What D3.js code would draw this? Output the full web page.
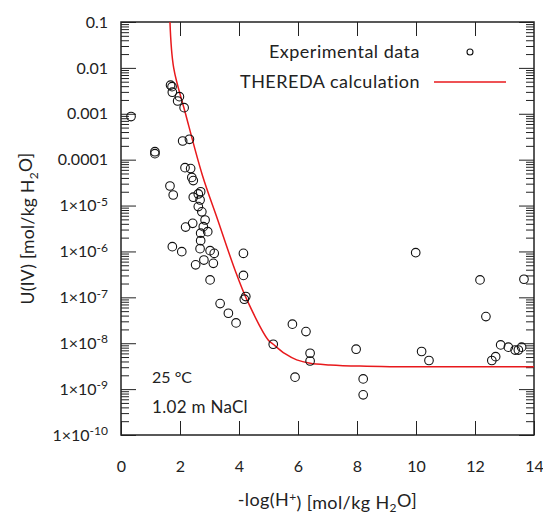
<!DOCTYPE html>
<html>
 <head>
  <meta charset="utf-8" />
  <title>U(IV) solubility</title>
  <style>
   body, html {
    margin: 0;
    padding: 0;
    background: #fff;
   }
   svg text {
    font-family: Lato, "Open Sans", sans-serif;
    fill: #222;
   }
   .frame {
    fill: none;
    stroke: #222;
    stroke-width: 1.5;
   }
   .axis path {
    display: none;
   }
   .axis line {
    stroke: #222;
    stroke-width: 1;
   }
  </style>
  <script src="https://cdnjs.cloudflare.com/ajax/libs/d3/7.9.0/d3.min.js"></script>
 </head>
 <body>
  <svg width="543" height="515"></svg>
  <script>
   // experimental points: -log(H+) and U(IV) concentration
   const expPh = [
    0.34, 1.68, 1.73, 1.74, 1.98, 1.92, 2.14, 2.09, 2.32, 1.15, 1.15,
    2.17, 2.36, 2.40, 2.45, 1.66, 1.77, 2.70, 2.62, 2.45, 2.68, 2.62,
    2.74, 2.85, 2.43, 2.19, 2.79, 2.94, 2.70, 2.70, 1.74, 2.06, 2.68,
    3.02, 3.16, 4.15, 2.81, 2.53, 3.13, 3.02, 4.15, 4.23, 4.18, 3.36,
    3.64, 3.90, 5.16, 5.81, 6.27, 6.41, 6.41, 5.90, 7.97, 8.21, 8.21,
    9.99, 12.17, 13.66, 12.37, 10.19, 10.44, 12.87, 13.13, 13.36, 13.47,
    13.58, 12.70, 12.57
   ];
   const expU = [
    8.7e-4, 4.2e-3, 3.9e-3, 2.95e-3, 2.36e-3, 1.9e-3, 1.36e-3, 2.55e-4, 2.78e-4, 1.49e-4, 1.35e-4,
    6.7e-5, 6.4e-5, 4.1e-5, 3.5e-5, 2.67e-5, 1.7e-5, 2.0e-5, 1.79e-5, 1.52e-5, 1.32e-5, 9.5e-6,
    7.3e-6, 4.85e-6, 4.1e-6, 3.4e-6, 3.47e-6, 2.7e-6, 2.5e-6, 1.72e-6, 1.27e-6, 9.9e-7, 1.15e-6,
    1.04e-6, 9.1e-7, 9.1e-7, 6.5e-7, 5.1e-7, 5.5e-7, 2.4e-7, 3.0e-7, 1.04e-7, 9.1e-8, 7.3e-8,
    4.5e-8, 2.77e-8, 9.5e-9, 2.6e-8, 1.79e-8, 6.05e-9, 4.1e-9, 1.82e-9, 7.4e-9, 1.67e-9, 7.5e-10,
    9.4e-7, 2.4e-7, 2.48e-7, 3.8e-8, 6.6e-9, 4.2e-9, 9.2e-9, 8.2e-9, 7.1e-9, 7.1e-9,
    8.2e-9, 5.1e-9, 4.2e-9
   ];

   // THEREDA calculation
   const calcPh = [1.66, 1.786, 2.19, 2.756, 3.28, 3.864, 4.27, 4.99, 5.16, 5.56, 5.956, 6.407, 7.085, 8.1, 9.12, 14];
   const calcU = [1e-1, 9.95e-3, 9.9e-4, 4.65e-5, 4.85e-6, 3.95e-7, 8.8e-8, 1.18e-8, 9.5e-9, 5.9e-9, 4.33e-9, 3.66e-9, 3.37e-9, 3.17e-9, 3.09e-9, 3.09e-9];

   const xTicks = [0, 2, 4, 6, 8, 10, 12, 14];
   const yTicks = [1e-10, 1e-9, 1e-8, 1e-7, 1e-6, 1e-5, 1e-4, 1e-3, 1e-2, 1e-1];
   const yPlainLabels = {"-1": "0.1", "-2": "0.01", "-3": "0.001", "-4": "0.0001"};

   const margin = {left: 121, top: 22, right: 9, bottom: 80};
   const width = 543 - margin.left - margin.right;
   const height = 515 - margin.top - margin.bottom;

   const svg = d3.select("svg");
   const g = svg.append("g").attr("transform", `translate(${margin.left},${margin.top})`);

   const x = d3.scaleLinear().domain([0, 14]).range([0, width]);
   const y = d3.scaleLog().domain([1e-10, 0.1]).range([height, 0]);

   const minorTicks = [];
   yTicks.slice(0, -1).forEach(t => {
    for(let k = 2; k <= 9; k++)
     minorTicks.push(t * k);
   });

   g.append("defs").append("clipPath").attr("id", "clip")
    .append("rect").attr("width", width).attr("height", height);

   // x axis, bottom and top, ticks inward
   g.append("g").attr("class", "axis").attr("transform", `translate(0,${height})`)
    .call(d3.axisBottom(x).tickValues(xTicks).tickSize(-14).tickPadding(26).tickFormat(d3.format("d")))
    .selectAll("text").style("font-size", "16px");
   g.append("g").attr("class", "axis")
    .call(d3.axisTop(x).tickValues(xTicks.slice(1, -1)).tickSize(-14).tickFormat(""));

   // y axis, left and right
   const yLeft = g.append("g").attr("class", "axis")
    .call(d3.axisLeft(y).tickValues(yTicks).tickSize(-15).tickPadding(13).tickFormat(""));
   yLeft.selectAll(".tick text").each(function(d) {
    const e = Math.round(Math.log10(d));
    const t = d3.select(this).style("font-size", "16px");
    if(yPlainLabels[e] !== undefined) {
     t.text(yPlainLabels[e]);
    } else {
     t.append("tspan").text("1\u00d710");
     t.append("tspan").attr("dy", "-0.45em").style("font-size", "12px").text("-" + (-e));
    }
   });
   g.append("g").attr("class", "axis")
    .call(d3.axisLeft(y).tickValues(minorTicks).tickSize(-8).tickFormat(""));
   g.append("g").attr("class", "axis").attr("transform", `translate(${width},0)`)
    .call(d3.axisRight(y).tickValues(yTicks).tickSize(-15).tickFormat(""));
   g.append("g").attr("class", "axis").attr("transform", `translate(${width},0)`)
    .call(d3.axisRight(y).tickValues(minorTicks).tickSize(-8).tickFormat(""));

   g.append("rect").attr("class", "frame").attr("width", width).attr("height", height);

   // calculation curve
   g.append("path")
    .datum(calcU)
    .attr("clip-path", "url(#clip)")
    .attr("d", d3.line().x((d, i) => x(calcPh[i])).y(d => y(d)).curve(d3.curveCatmullRom.alpha(0.5)))
    .attr("fill", "none")
    .attr("stroke", "#e8191c")
    .attr("stroke-width", 1.5);

   // experimental data
   g.append("g").selectAll("circle")
    .data(expU)
    .enter().append("circle")
    .attr("cx", (d, i) => x(expPh[i]))
    .attr("cy", d => y(d))
    .attr("r", 4.3)
    .attr("fill", "none")
    .attr("stroke", "#111")
    .attr("stroke-width", 1.1);

   // legend
   svg.append("text").attr("x", 420).attr("y", 58).attr("text-anchor", "end")
    .style("font-size", "18px").style("letter-spacing", "0.5px").text("Experimental data");
   svg.append("circle").attr("cx", 470).attr("cy", 52).attr("r", 3)
    .attr("fill", "none").attr("stroke", "#111").attr("stroke-width", 1.1);
   svg.append("text").attr("x", 420).attr("y", 88).attr("text-anchor", "end")
    .style("font-size", "18px").style("letter-spacing", "0.5px").text("THEREDA calculation");
   svg.append("line").attr("x1", 434).attr("x2", 506).attr("y1", 82).attr("y2", 82)
    .attr("stroke", "#e8191c").attr("stroke-width", 1.5);

   // annotations
   svg.append("text").attr("x", 152).attr("y", 383).style("font-size", "16px").text("25 \u00b0C");
   svg.append("text").attr("x", 152).attr("y", 413).style("font-size", "17px").style("letter-spacing", "0.3px").text("1.02 m NaCl");

   // axis titles
   const xt = svg.append("text").attr("x", margin.left + width / 2).attr("y", 506)
    .attr("text-anchor", "middle").style("font-size", "18px").style("letter-spacing", "0.4px");
   xt.append("tspan").text("-log(H");
   xt.append("tspan").attr("dy", "-0.45em").style("font-size", "12px").text("+");
   xt.append("tspan").attr("dy", "0.45em").text(") [mol/kg H");
   xt.append("tspan").attr("dy", "0.3em").style("font-size", "12px").text("2");
   xt.append("tspan").attr("dy", "-0.3em").text("O]");

   const yt = svg.append("text")
    .attr("transform", `translate(34,${margin.top + height / 2}) rotate(-90)`)
    .attr("text-anchor", "middle").style("font-size", "17.5px").style("letter-spacing", "0.3px");
   yt.append("tspan").text("U(IV) [mol/kg H");
   yt.append("tspan").attr("dy", "0.3em").style("font-size", "12px").text("2");
   yt.append("tspan").attr("dy", "-0.3em").text("O]");
  </script>
 </body>
</html>
